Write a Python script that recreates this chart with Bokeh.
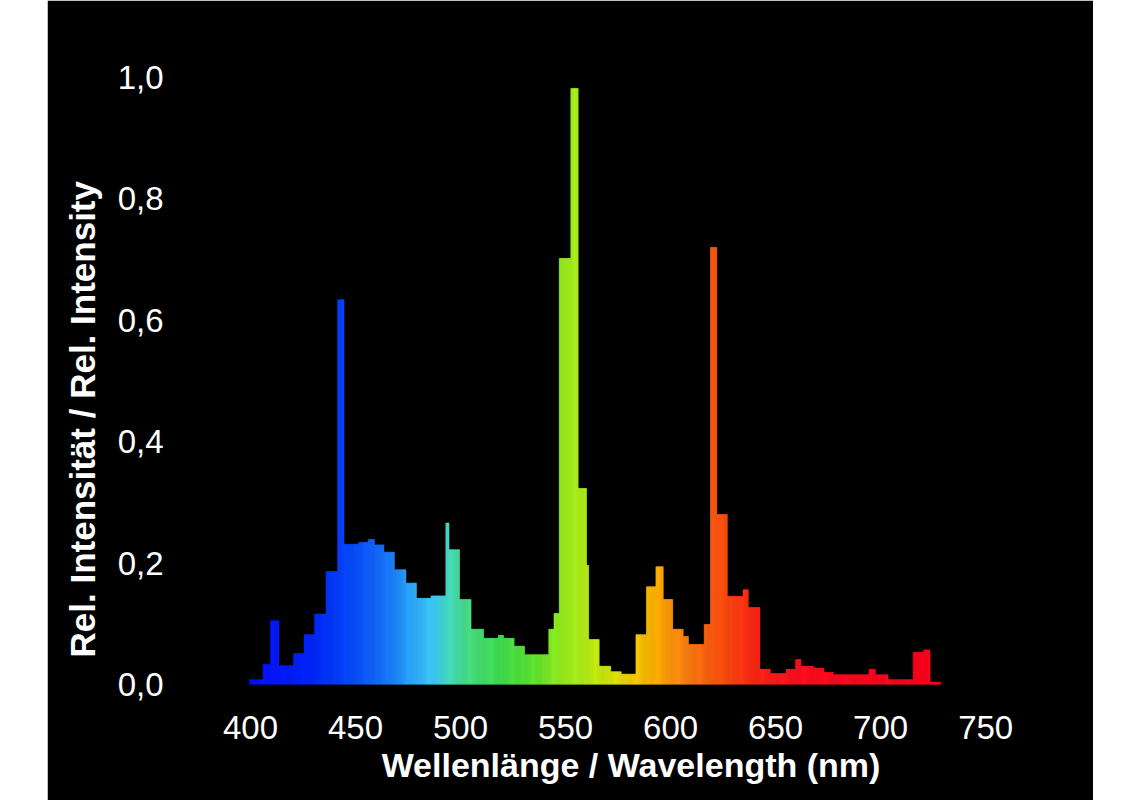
import numpy as np
from bokeh.plotting import figure
from bokeh.models import (Range1d, FixedTicker, CustomJSTickFormatter, Title,
                          Spacer, ColumnDataSource)
from bokeh.layouts import row
from bokeh.embed import file_html
from bokeh.resources import INLINE

# ---- data: step spectrum (bin edges in nm, relative intensity per bin) ----
bin_edges = [399.5, 406.0, 409.5, 413.5, 420.5, 425.5, 430.5, 436.0, 441.5, 444.5,
             451.5, 456.0, 459.0, 463.5, 468.5, 474.0, 479.0, 486.0, 493.0, 494.5,
             499.5, 505.0, 511.0, 518.0, 520.5, 525.5, 530.5, 542.0, 544.5, 547.0,
             552.5, 556.0, 560.0, 561.0, 566.0, 571.5, 576.5, 583.5, 588.5, 593.0,
             596.5, 601.0, 606.0, 608.5, 616.0, 619.0, 622.0, 627.0, 634.5, 637.0,
             642.5, 647.5, 655.0, 659.5, 662.0, 668.0, 673.0, 677.5, 694.5, 697.5,
             703.5, 715.5, 720.5, 723.5, 728.5]
intensity = [0.008, 0.033, 0.105, 0.031, 0.051, 0.082, 0.116, 0.186, 0.634, 0.231,
             0.234, 0.239, 0.230, 0.218, 0.189, 0.167, 0.142, 0.146, 0.266, 0.222,
             0.140, 0.091, 0.076, 0.081, 0.076, 0.063, 0.049, 0.091, 0.117, 0.702,
             0.982, 0.323, 0.196, 0.074, 0.030, 0.021, 0.017, 0.082, 0.161, 0.194,
             0.140, 0.091, 0.079, 0.066, 0.099, 0.720, 0.280, 0.145, 0.156, 0.127,
             0.025, 0.018, 0.025, 0.041, 0.030, 0.027, 0.020, 0.016, 0.025, 0.016,
             0.008, 0.053, 0.057, 0.004]

x_ticks = [400, 450, 500, 550, 600, 650, 700, 750]
y_ticks = [0.0, 0.2, 0.4, 0.6, 0.8, 1.0]

x_title = "Wellenlänge / Wavelength (nm)"
y_title = "Rel. Intensität / Rel. Intensity"

# ---- style: spectral colour anchors (wavelength -> colour) ----
color_wl = [400, 430, 450, 465, 478, 488, 496, 505, 520, 535, 548, 560, 572,
            582, 592, 603, 615, 625, 640, 660, 730]
color_hex = ["#0a10ff", "#0028ff", "#0a50ff", "#1a78ff", "#30b0ff", "#40d0f8",
             "#48e0b8", "#48e080", "#44e050", "#60e830", "#98f020", "#b8f018",
             "#d8e808", "#f8d000", "#ffb400", "#ff9010", "#ff6a10", "#ff5010",
             "#ff2818", "#ff1020", "#ff0020"]

def hex2rgb(h):
    return [int(h[i:i + 2], 16) for i in (1, 3, 5)]

anchor_rgb = np.array([hex2rgb(h) for h in color_hex], dtype=float)

def spectral_color(wl):
    r = np.interp(wl, color_wl, anchor_rgb[:, 0])
    g = np.interp(wl, color_wl, anchor_rgb[:, 1])
    b = np.interp(wl, color_wl, anchor_rgb[:, 2])
    return "#%02x%02x%02x" % (int(round(r)), int(round(g)), int(round(b)))

# split every step bin into thin slices (same value) so the fill shows a gradient
lefts, rights, tops, cols = [], [], [], []
for i, val in enumerate(intensity):
    a, b = bin_edges[i], bin_edges[i + 1]
    n = max(1, int(np.ceil((b - a) / 0.5)))
    sub = np.linspace(a, b, n + 1)
    for j in range(n):
        lefts.append(sub[j])
        rights.append(sub[j + 1])
        tops.append(val)
        cols.append(spectral_color(0.5 * (sub[j] + sub[j + 1])))

src = ColumnDataSource(dict(left=lefts, right=rights, top=tops,
                            bottom=[0.0] * len(tops), color=cols))

FONT = "Liberation Sans"

p = figure(width=1046, height=800, output_backend="svg", toolbar_location=None,
           title=None,
           x_range=Range1d(386.2, 776.1), y_range=Range1d(0.0, 1.028),
           min_border_left=173, min_border_right=53,
           min_border_top=60, min_border_bottom=116)
p.background_fill_color = "black"
p.border_fill_color = "black"
p.outline_line_color = "black"
p.outline_line_width = 3
p.grid.visible = False

p.quad(left="left", right="right", top="top", bottom="bottom", source=src,
       fill_color="color", line_color="color", line_width=0.6)

for ax in (p.xaxis[0], p.yaxis[0]):
    ax.axis_line_color = None
    ax.major_tick_line_color = None
    ax.minor_tick_line_color = None
    ax.major_tick_out = 0
    ax.major_tick_in = 0
    ax.major_label_text_color = "white"
    ax.major_label_text_font = FONT
    ax.major_label_text_font_size = "33px"

p.xaxis.ticker = FixedTicker(ticks=x_ticks)
p.xaxis.major_label_standoff = 31
p.xaxis.axis_label = x_title
p.xaxis.axis_label_text_color = "white"
p.xaxis.axis_label_text_font = FONT
p.xaxis.axis_label_text_font_size = "34px"
p.xaxis.axis_label_text_font_style = "bold"
p.xaxis.axis_label_standoff = 4

p.yaxis.ticker = FixedTicker(ticks=y_ticks)
p.yaxis.formatter = CustomJSTickFormatter(code="return tick.toFixed(1).replace('.', ',');")
p.yaxis.major_label_standoff = 58

yt = Title(text=y_title, align="left", offset=27, text_color="white",
           text_font=FONT, text_font_size="35px", text_font_style="bold",
           standoff=26)
p.add_layout(yt, "left")

layout = row(Spacer(width=47, height=800), p)

open("out.html", "w").write(file_html(layout, INLINE))
